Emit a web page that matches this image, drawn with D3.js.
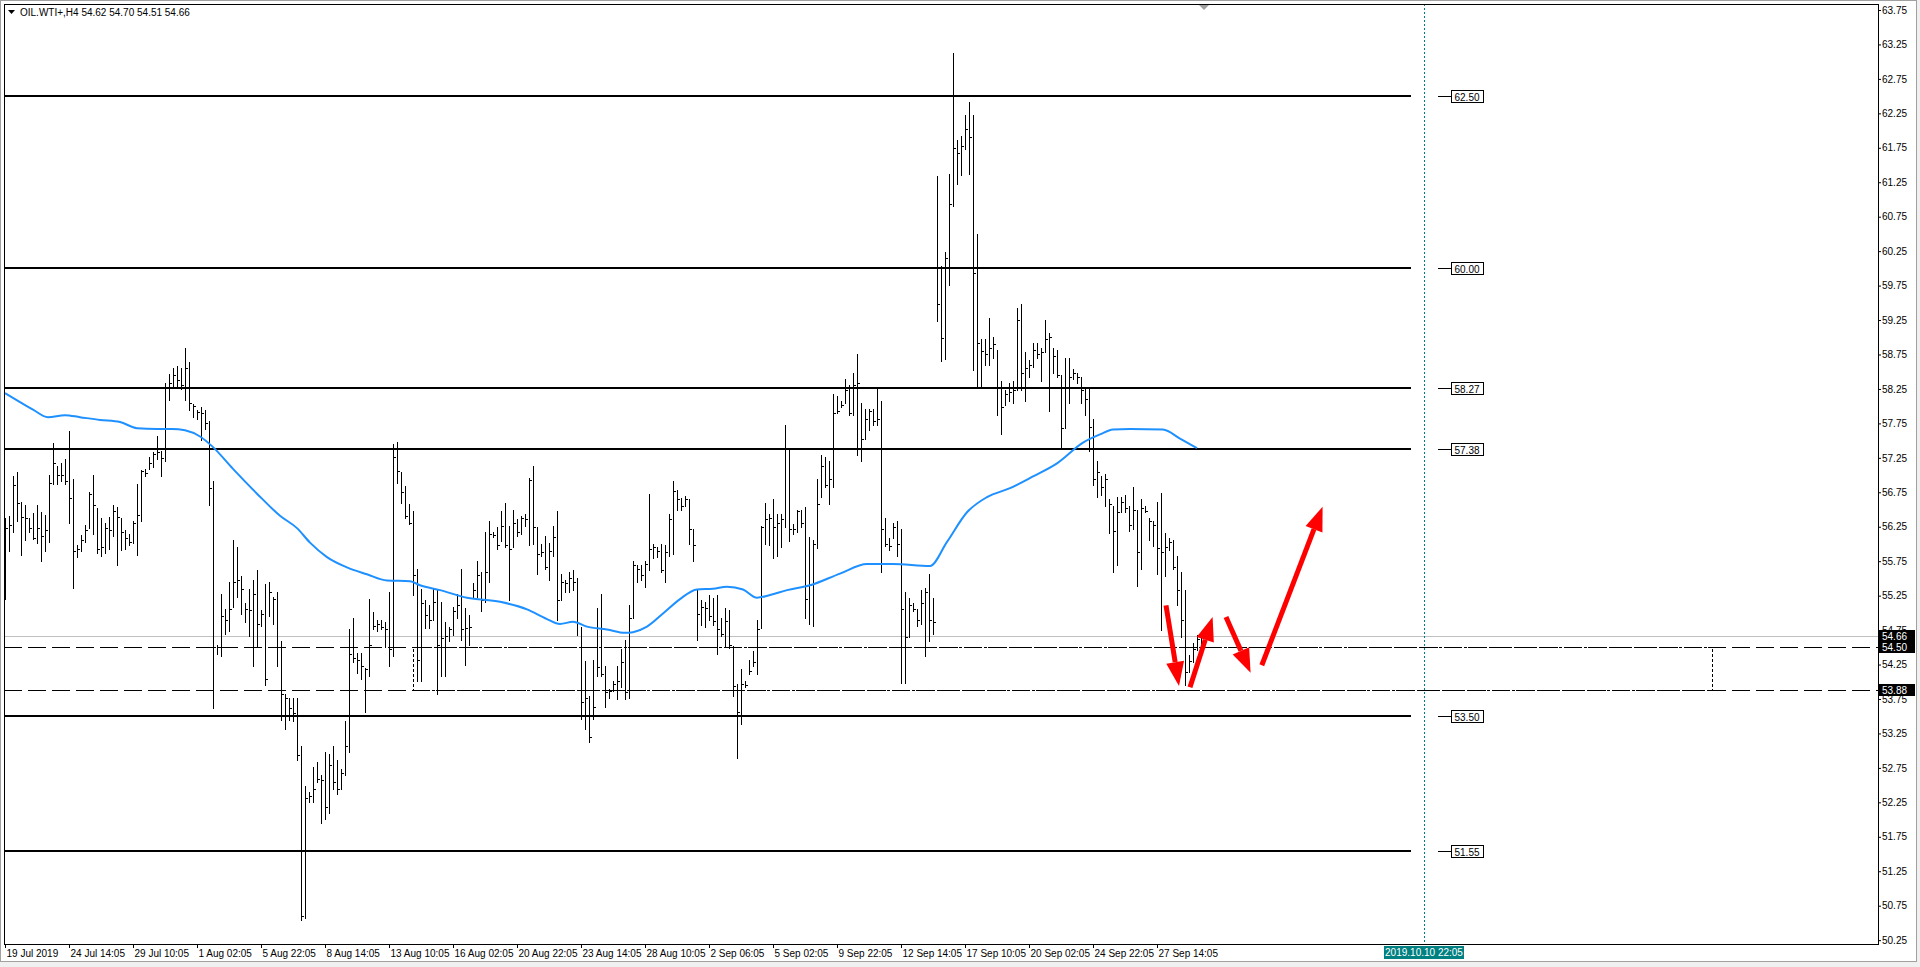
<!doctype html>
<html lang="en">
<head>
<meta charset="UTF-8">
<title>OIL.WTI+,H4</title>
<script src="https://cdn.jsdelivr.net/npm/d3@7"></script>
<style>
  body { margin: 0; background: #fff; }
  svg text { font-family: "Liberation Sans", Arial, sans-serif; font-size: 10px; }
</style>
</head>
<body>
<svg id="chart"></svg>
<script>
// H4 bars (index 0 = 19 Jul 2019)
const opens = [
  56.20,56.23,56.27,56.85,56.60,56.39,56.37,56.23,56.09,56.23, 56.12,56.20,56.89,57.13,57.00,57.00,56.92,56.67,55.90,55.92,
  56.06,56.23,56.72,56.52,55.92,55.95,56.23,56.20,56.48,56.37, 56.17,56.09,56.03,56.31,56.42,57.06,57.09,57.17,57.31,57.34,
  57.25,58.28,58.34,58.45,58.38,58.31,58.56,58.03,57.95,57.92, 57.90,57.75,56.81,54.51,54.50,54.95,54.90,55.09,55.45,55.48,
  55.15,55.06,55.04,55.28,54.84,54.98,54.95,55.23,55.20,54.51, 53.82,53.76,53.62,53.55,52.93,50.60,52.32,52.34,52.54,52.59,
  52.57,52.18,52.79,52.55,52.45,52.68,53.07,54.40,54.34,54.31, 54.20,54.18,54.76,54.81,54.84,54.80,54.76,54.48,57.26,57.05,
  56.75,56.40,56.31,55.55,54.32,55.14,54.97,54.90,55.16,54.54, 54.64,54.66,54.76,55.02,55.11,54.76,54.78,55.21,55.33,55.55,
  55.19,55.59,56.14,56.13,56.05,56.26,55.98,55.95,56.30,56.17, 56.38,56.36,56.93,56.24,55.86,55.88,55.67,55.90,56.10,55.19,
  55.45,55.43,55.50,55.45,54.80,53.70,53.77,53.46,54.09,54.21, 54.11,53.85,53.87,53.97,54.01,54.28,53.85,54.92,55.69,55.64,
  55.55,55.71,55.93,55.95,55.90,55.62,55.88,56.36,56.77,56.65, 56.55,56.65,56.22,55.35,54.99,55.09,55.07,54.95,54.88,54.76,
  54.70,54.88,54.52,53.94,53.56,53.97,54.11,54.23,54.28,54.78, 56.24,56.36,56.38,56.24,56.31,56.36,57.39,56.22,56.22,56.48,
  56.30,55.20,55.40,56.00,56.68,57.13,56.86,56.95,57.90,57.99, 58.05,58.24,57.90,58.30,58.05,57.53,57.81,57.93,57.78,57.81,
  56.22,56.00,56.09,56.25,56.00,55.05,54.65,55.11,55.05,54.90, 55.14,55.30,54.90,61.04,59.49,58.99,60.15,60.94,61.74,61.67,
  61.78,62.02,61.90,59.93,58.91,58.80,58.76,58.85,58.82,58.27, 58.02,58.18,58.21,58.24,59.25,58.48,58.55,58.60,58.82,58.75,
  58.79,58.97,58.85,58.73,58.45,57.69,58.27,58.42,58.48,58.42, 58.24,58.10,57.70,56.95,56.98,56.83,56.65,56.55,56.19,56.46,
  56.61,56.52,56.28,56.49,55.88,56.52,56.37,56.34,56.28,55.94, 55.88,55.95,56.03,55.67,55.33,54.90,54.14,54.30,54.48,54.62
];
const highs = [
  56.37,56.41,56.99,57.05,56.61,56.56,56.37,56.45,56.57,56.46, 56.42,57.00,57.46,57.13,57.18,57.23,57.64,56.95,55.98,56.13,
  56.28,56.76,57.00,56.52,56.37,56.31,56.39,56.56,56.53,56.37, 56.20,56.15,56.34,56.87,57.08,57.09,57.26,57.34,57.56,57.35,
  58.34,58.46,58.56,58.59,58.56,58.84,58.64,58.03,57.95,57.99, 57.95,57.78,56.92,54.54,55.28,55.06,55.45,56.06,55.95,55.54,
  55.15,55.34,55.48,55.62,55.04,55.42,55.45,55.23,55.31,54.59, 53.82,53.76,53.76,53.76,53.07,52.48,52.40,52.76,52.84,52.65,
  52.98,52.95,53.07,52.87,52.73,53.43,54.76,54.92,54.42,54.42, 54.20,55.20,55.01,54.90,54.90,54.87,55.31,57.45,57.48,57.05,
  56.84,56.58,56.48,55.64,55.35,55.19,55.11,55.35,55.33,55.16, 54.87,54.80,55.09,55.28,55.64,55.07,54.97,55.43,55.76,55.59,
  56.17,56.34,56.17,56.24,56.48,56.60,56.26,56.50,56.36,56.41, 56.43,56.96,57.13,56.24,56.00,56.12,56.02,56.26,56.48,55.57,
  55.47,55.59,55.62,55.50,54.80,54.30,53.80,54.32,55.07,55.28, 54.23,53.89,54.01,54.23,54.47,54.61,55.11,55.76,55.69,55.69,
  55.76,56.72,56.00,55.95,56.00,55.98,56.43,56.91,56.79,56.67, 56.69,56.65,56.22,55.35,55.19,55.16,55.26,55.21,55.26,54.92,
  55.07,55.04,54.52,53.97,54.18,54.01,54.32,54.44,54.90,56.26, 56.60,56.43,56.65,56.43,56.43,57.72,57.39,56.29,56.50,56.50,
  56.53,56.10,56.06,56.95,57.29,57.26,57.20,58.18,58.15,58.08, 58.39,58.30,58.48,58.76,58.05,57.96,57.96,57.96,58.27,58.08,
  56.37,56.09,56.31,56.34,56.22,55.30,55.21,55.14,55.05,55.33, 55.36,55.57,55.21,61.34,60.03,60.24,61.37,63.13,61.86,61.92,
  62.23,62.41,62.23,60.50,58.97,58.97,59.28,59.00,58.82,58.36, 58.24,58.33,58.36,59.43,59.49,58.79,58.67,58.91,58.91,58.85,
  59.25,59.06,58.85,58.82,58.45,58.70,58.70,58.54,58.48,58.42, 58.27,58.27,57.81,57.20,56.98,57.01,56.65,56.55,56.68,56.68,
  56.71,56.55,56.83,56.49,56.65,56.55,56.37,56.34,56.61,56.74, 56.16,56.09,56.06,55.82,55.60,55.33,54.39,54.56,54.68,54.70
];
const lows = [
  55.20,55.90,56.17,56.34,55.84,56.06,56.17,56.07,56.01,55.76, 55.90,56.03,56.87,56.87,56.92,56.87,56.31,55.36,55.81,55.90,
  56.03,56.23,56.15,55.87,55.83,55.87,55.92,56.12,55.70,55.91, 55.92,55.98,56.01,55.84,56.34,56.98,57.09,57.12,57.23,56.98,
  57.20,58.09,58.28,58.28,58.25,58.09,57.95,57.84,57.81,57.51, 57.67,56.56,53.62,54.40,54.37,54.70,54.73,55.09,55.23,54.98,
  54.87,54.67,54.23,54.51,54.81,53.95,54.95,54.84,54.23,53.45, 53.32,53.45,53.43,52.87,50.54,50.57,52.26,52.26,52.54,51.95,
  52.01,52.10,52.45,52.37,52.45,52.65,52.98,54.29,54.12,54.04, 53.56,54.09,54.76,54.73,54.76,54.51,54.23,54.37,56.89,56.60,
  56.38,56.29,55.26,54.01,54.01,54.78,54.78,54.89,53.82,54.09, 54.09,54.59,54.68,54.92,54.61,54.25,54.54,55.21,55.23,55.02,
  55.16,55.45,56.10,55.93,56.05,55.95,55.19,55.95,56.12,56.14, 56.26,55.98,56.00,55.57,55.83,55.64,55.47,55.83,54.90,55.19,
  55.31,55.31,55.33,54.68,53.46,53.32,53.13,53.46,54.09,54.09, 53.63,53.77,53.87,53.75,53.92,53.75,53.77,54.92,55.45,55.47,
  55.38,55.62,55.79,55.81,55.59,55.45,55.83,55.86,56.50,56.50, 56.55,56.00,55.76,54.61,54.83,54.80,54.90,54.83,54.40,54.66,
  54.52,54.49,53.80,52.89,53.39,53.92,54.11,54.23,54.11,54.78, 56.00,55.98,55.79,55.83,55.95,56.24,56.05,56.14,56.17,56.24,
  54.92,54.84,54.81,55.94,56.68,56.83,56.58,56.83,57.90,57.99, 58.05,57.87,57.87,57.29,57.20,57.53,57.66,57.72,57.72,55.60,
  55.97,55.91,56.09,55.82,53.98,53.98,54.65,55.02,54.81,54.84, 54.38,54.59,54.69,59.23,58.65,58.69,59.76,60.90,61.23,61.35,
  61.73,61.37,58.53,58.27,58.27,58.60,58.60,58.70,57.87,57.59, 58.02,58.08,58.05,58.24,58.24,58.08,58.42,58.57,58.70,58.36,
  58.79,57.93,58.48,58.42,57.41,57.69,58.05,58.39,58.33,58.05, 57.87,57.35,56.86,56.68,56.71,56.55,56.16,55.60,55.70,56.46,
  56.46,56.19,56.22,55.39,55.63,56.46,56.06,55.97,55.57,54.75, 55.54,55.91,55.63,55.11,54.65,53.95,54.14,54.29,54.46,54.51
];
const closes = [
  56.23,56.27,56.85,56.60,56.39,56.38,56.23,56.09,56.23,56.12, 56.20,56.89,57.17,57.00,57.00,56.92,56.67,55.90,55.92,56.06,
  56.20,56.72,56.56,55.92,55.95,56.23,56.20,56.48,56.39,56.17, 56.09,56.03,56.31,56.42,57.06,57.03,57.17,57.31,57.34,57.25,
  58.28,58.34,58.45,58.38,58.31,58.56,58.05,58.00,57.92,57.90, 57.75,56.81,54.51,54.50,54.95,54.90,55.06,55.45,55.48,55.34,
  55.06,55.04,55.28,54.84,54.98,54.04,55.31,55.20,54.51,53.82, 53.76,53.62,53.55,52.93,50.60,52.32,52.34,52.45,52.59,52.57,
  52.18,52.79,52.55,52.45,52.68,53.07,54.40,54.34,54.31,54.23, 54.18,54.54,54.81,54.84,54.80,54.76,54.48,57.26,57.06,56.75,
  56.40,56.31,55.55,54.32,55.14,54.97,54.90,55.16,54.54,54.64, 54.66,54.76,55.02,55.11,54.76,54.78,54.80,55.33,55.55,55.19,
  55.59,56.14,56.13,55.98,56.26,55.98,55.93,56.30,56.17,56.38, 56.36,56.93,56.24,55.86,55.88,55.67,55.90,56.10,55.19,55.45,
  55.43,55.50,55.45,54.85,53.70,53.77,53.20,53.63,54.21,54.11, 53.85,53.86,53.97,54.01,54.28,53.85,54.92,55.69,55.64,55.55,
  55.71,55.93,55.95,55.90,55.62,55.88,56.36,56.77,56.65,56.55, 56.65,56.22,55.99,54.99,55.09,55.07,54.95,54.88,54.76,54.70,
  54.88,54.54,53.94,53.56,53.97,53.95,54.16,54.28,54.76,56.24, 56.36,56.38,56.24,56.31,56.36,57.39,56.22,56.22,56.48,56.30,
  55.20,55.40,56.00,56.58,57.13,56.86,56.95,57.90,57.93,58.02, 58.24,57.90,58.30,58.33,57.53,57.81,57.93,57.78,57.81,56.22,
  56.00,55.97,56.25,56.00,55.05,54.65,55.11,55.05,54.90,55.14, 55.30,54.90,54.87,59.49,58.99,60.15,60.94,61.74,61.67,61.78,
  62.02,61.90,59.93,58.91,58.80,58.76,58.85,58.90,58.27,57.99, 58.18,58.21,58.24,59.25,58.48,58.55,58.60,58.82,58.75,58.79,
  58.97,59.00,58.73,58.45,57.69,58.27,58.42,58.48,58.42,58.24, 58.10,57.70,56.95,57.05,56.83,56.95,56.58,56.19,56.46,56.61,
  56.52,56.28,56.49,55.88,56.52,56.48,56.34,56.28,55.94,55.88, 55.95,56.03,55.67,55.33,54.90,54.14,54.30,54.48,54.62,54.66
];

// moving average, sampled points: bar index / price
const maIndex = [0,3.75,7,10.75,15,18.75,23.75,28.75,33,38,41.75,45,48.75,51.75,57,63,68.75,73,76.25,80.5,85.5,90.5,95.5,
  101.25,103.75,108.75,115.5,123.75,130.5,135.5,138.75,142,145.5,150.5,155,157,160.5,164.5,168.75,173,177,180.5,184.5,188,
  191.25,195.5,201.25,208.75,215.5,222,231.25,235.5,240.5,245.5,251.25,257,263,269.5,273.75,277,281.25,289.5,293.75,298];
const maValue = [58.19,58.06,57.95,57.84,57.87,57.84,57.80,57.77,57.68,57.67,57.67,57.65,57.56,57.42,57.09,56.73,56.41,56.23,
  56.02,55.81,55.66,55.56,55.47,55.46,55.40,55.33,55.22,55.16,55.05,54.91,54.84,54.87,54.80,54.76,54.71,54.72,54.80,54.99,
  55.20,55.34,55.35,55.38,55.34,55.22,55.26,55.33,55.40,55.57,55.71,55.71,55.68,56.03,56.46,56.68,56.81,56.98,57.17,57.47,
  57.59,57.66,57.67,57.66,57.53,57.39];

const dateLabels = ["19 Jul 2019","24 Jul 14:05","29 Jul 10:05","1 Aug 02:05","5 Aug 22:05","8 Aug 14:05","13 Aug 10:05",
  "16 Aug 02:05","20 Aug 22:05","23 Aug 14:05","28 Aug 10:05","2 Sep 06:05","5 Sep 02:05","9 Sep 22:05","12 Sep 14:05",
  "17 Sep 10:05","20 Sep 02:05","24 Sep 22:05","27 Sep 14:05"];
const priceTicks = d3.range(50.25, 63.76, 0.5);

const levels = [62.50, 60.00, 58.27, 57.38, 53.50, 51.55];
const zoneLevels = [54.50, 53.88];
const bidPrice = 54.66;
const header = "OIL.WTI+,H4  54.62 54.70 54.51 54.66";
const cursorTime = "2019.10.10 22:05";

// arrows: [from index, from price, to index, to price]
const arrows = [
  [290.25, 55.11, 293.5, 53.94],
  [296.25, 53.92, 301.9, 54.94],
  [305.25, 54.94, 311.4, 54.13],
  [314.2, 54.24, 329.4, 56.54]
];

const W = 1920, H = 967;
const plot = { left: 4, top: 4, right: 1878, bottom: 944 };

const x = d3.scaleLinear().domain([0, 468.25]).range([5, plot.right]);
const y = d3.scaleLinear().domain([50.194, 63.837]).range([plot.bottom, plot.top]);
const px = v => Math.round(x(v)) + 0.5;
const py = v => Math.round(y(v)) + 0.5;

const svg = d3.select("#chart").attr("width", W).attr("height", H);

// window frame
svg.append("rect").attr("width", W).attr("height", H).attr("fill", "#f0f0f0");
svg.append("rect").attr("x", 0.5).attr("y", 0.5).attr("width", 1916).attr("height", 961)
  .attr("fill", "#fff").attr("stroke", "#a0a0a0");

svg.append("clipPath").attr("id", "clip").append("rect")
  .attr("x", plot.left).attr("y", plot.top)
  .attr("width", plot.right - plot.left).attr("height", plot.bottom - plot.top);

const g = svg.append("g").attr("clip-path", "url(#clip)").attr("shape-rendering", "crispEdges");

// bid line
g.append("line").attr("x1", plot.left).attr("x2", plot.right)
  .attr("y1", py(bidPrice)).attr("y2", py(bidPrice)).attr("stroke", "#c0c0c0");

// zone lines, long dashes over full width
g.selectAll(".zone").data(zoneLevels).enter().append("line")
  .attr("x1", plot.left).attr("x2", plot.right)
  .attr("y1", d => py(d)).attr("y2", d => py(d))
  .attr("stroke", "#000").attr("stroke-dasharray", "18,6");

// zone rectangle (dotted)
g.append("rect")
  .attr("x", px(102)).attr("y", py(zoneLevels[0]))
  .attr("width", px(426.75) - px(102)).attr("height", py(zoneLevels[1]) - py(zoneLevels[0]))
  .attr("fill", "none").attr("stroke", "#000").attr("stroke-dasharray", "3,2");

// time cursor line
g.append("line").attr("x1", px(354.75)).attr("x2", px(354.75))
  .attr("y1", plot.top).attr("y2", plot.bottom)
  .attr("stroke", "#008080").attr("stroke-dasharray", "2,2");

// horizontal levels
g.selectAll(".lvl").data(levels).enter().append("line")
  .attr("x1", plot.left).attr("x2", x(351.5))
  .attr("y1", d => Math.round(y(d))).attr("y2", d => Math.round(y(d)))
  .attr("stroke", "#000").attr("stroke-width", 2);
g.selectAll(".lvlTick").data(levels).enter().append("line")
  .attr("x1", px(358)).attr("x2", px(361.5))
  .attr("y1", d => py(d)).attr("y2", d => py(d))
  .attr("stroke", "#000");
const lvlLab = g.selectAll(".lvlLab").data(levels).enter().append("g");
lvlLab.append("rect")
  .attr("x", px(361.5)).attr("y", d => py(d) - 6)
  .attr("width", 32).attr("height", 12)
  .attr("fill", "#fff").attr("stroke", "#000");
lvlLab.append("text")
  .attr("x", px(361.5) + 3).attr("y", d => py(d) + 4)
  .text(d => d.toFixed(2));

// OHLC bars
const bars = g.append("g").attr("stroke", "#000");
bars.selectAll(".bar").data(closes).enter().append("path")
  .attr("d", (c, i) => {
    const bx = px(i);
    return `M${bx},${Math.round(y(highs[i]))}V${Math.round(y(lows[i])) + 1}` +
      `M${bx - 1},${py(opens[i])}h1M${bx},${py(c)}h2`;
  });

// moving average
g.append("path")
  .datum(maIndex.map((d, i) => [d, maValue[i]]))
  .attr("fill", "none").attr("stroke", "#1e90ff").attr("stroke-width", 2)
  .attr("shape-rendering", "auto")
  .attr("d", d3.line().x(d => x(d[0])).y(d => y(d[1])).curve(d3.curveMonotoneX));

// red arrows
const ag = svg.append("g").attr("clip-path", "url(#clip)");
arrows.forEach(a => {
  const x1 = x(a[0]), y1 = y(a[1]), x2 = x(a[2]), y2 = y(a[3]);
  const len = Math.hypot(x2 - x1, y2 - y1);
  const ux = (x2 - x1) / len, uy = (y2 - y1) / len;
  const hl = 24, hw = 9;
  const bx = x2 - ux * hl, by = y2 - uy * hl;
  ag.append("line").attr("x1", x1).attr("y1", y1).attr("x2", bx).attr("y2", by)
    .attr("stroke", "#ff0000").attr("stroke-width", 5);
  ag.append("path")
    .attr("d", `M${x2},${y2}L${bx - uy * hw},${by + ux * hw}L${bx + uy * hw},${by - ux * hw}Z`)
    .attr("fill", "#ff0000");
});

// plot border
svg.append("rect").attr("x", plot.left + 0.5).attr("y", plot.top + 0.5)
  .attr("width", plot.right - plot.left).attr("height", plot.bottom - plot.top)
  .attr("fill", "none").attr("stroke", "#000").attr("shape-rendering", "crispEdges");

// shift marker at top
svg.append("path")
  .attr("d", `M${x(299.75) - 5},${plot.top + 1}h10l-5,5Z`).attr("fill", "#a0a0a0");

// header
svg.append("path").attr("d", "M8,10h7l-3.5,4Z").attr("fill", "#000");
svg.append("text").attr("x", 20).attr("y", 16).attr("fill", "#000").text(header);

// right price axis
const yAxis = d3.axisRight(y).tickValues(priceTicks).tickFormat(d3.format(".2f")).tickSize(3).tickPadding(1);
svg.append("g").attr("transform", `translate(${plot.right},0)`)
  .call(yAxis)
  .call(a => a.select(".domain").remove())
  .call(a => a.selectAll("text").attr("font-family", null).attr("font-size", null).attr("fill", "#000"));

// bottom time axis
const xAxis = d3.axisBottom(x).tickValues(d3.range(0, 289, 16)).tickFormat((d, i) => dateLabels[i])
  .tickSize(4).tickPadding(2);
svg.append("g").attr("transform", `translate(0,${plot.bottom})`)
  .call(xAxis)
  .call(a => a.select(".domain").remove())
  .call(a => a.selectAll("text").attr("text-anchor", "start").attr("dx", 1)
    .attr("font-family", null).attr("font-size", null).attr("fill", "#000"));

// price boxes on the axis
[bidPrice, zoneLevels[0], zoneLevels[1]].forEach(p => {
  svg.append("rect").attr("x", plot.right + 1).attr("y", Math.round(y(p)) - 6)
    .attr("width", 36).attr("height", 12).attr("fill", "#000");
  svg.append("text").attr("x", plot.right + 4).attr("y", Math.round(y(p)) + 4)
    .attr("fill", "#fff").text(p.toFixed(2));
});

// cursor time box
const cx = Math.round(x(354.75));
svg.append("rect").attr("x", cx - 40).attr("y", plot.bottom + 2).attr("width", 80).attr("height", 13)
  .attr("fill", "#008080");
svg.append("text").attr("x", cx).attr("y", plot.bottom + 12).attr("text-anchor", "middle")
  .attr("fill", "#fff").text(cursorTime);
</script>
</body>
</html>
